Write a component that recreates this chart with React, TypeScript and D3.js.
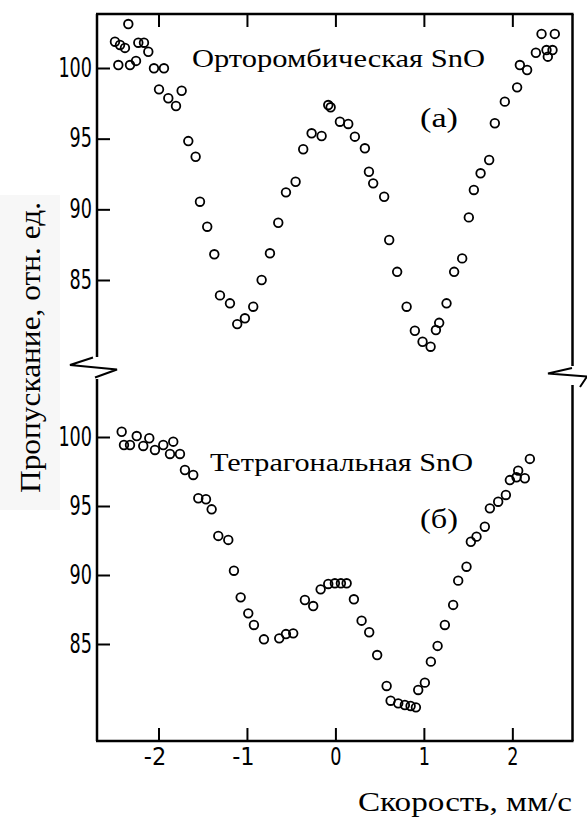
import React, { useEffect, useRef } from 'react';
import * as d3 from 'd3';

// Orthorhombic SnO (a): [velocity mm/s, transmission %]
const orthoVel = [-2.341, -2.492, -2.435, -2.379, -2.228, -2.164, -2.115, -2.454, -2.322, -2.254, -2.051, -1.938, -1.994, -1.889, -1.802, -1.738, -1.663, -1.58, -1.531, -1.449, -1.369, -1.305, -1.192, -1.11, -1.023, -0.929, -0.834, -0.74, -0.646, -0.559, -0.45, -0.364, -0.269, -0.156, -0.081, -0.054, 0.051, 0.145, 0.22, 0.333, 0.379, 0.427, 0.551, 0.608, 0.698, 0.805, 0.898, 0.985, 1.076, 1.136, 1.173, 1.256, 1.342, 1.433, 1.508, 1.565, 1.641, 1.738, 1.802, 1.915, 2.054, 2.085, 2.167, 2.266, 2.33, 2.48, 2.386, 2.454, 2.401];
const orthoTrans = [103.11, 101.86, 101.63, 101.42, 101.79, 101.79, 101.15, 100.21, 100.21, 100.5, 99.98, 99.98, 98.49, 97.86, 97.31, 98.39, 94.83, 93.72, 90.54, 88.77, 86.82, 83.91, 83.35, 81.88, 82.29, 83.11, 85.0, 86.89, 89.05, 91.2, 91.95, 94.25, 95.38, 95.19, 97.38, 97.22, 96.2, 96.04, 95.14, 94.32, 92.66, 91.84, 90.89, 87.83, 85.58, 83.11, 81.41, 80.63, 80.28, 81.46, 81.97, 83.35, 85.58, 86.53, 89.43, 91.37, 92.55, 93.49, 96.09, 97.62, 98.63, 100.21, 99.86, 101.08, 102.41, 102.41, 101.27, 101.27, 100.8];

// Tetragonal SnO (б)
const tetraVel = [-2.416, -2.246, -2.104, -1.833, -2.39, -2.322, -2.172, -2.04, -1.946, -1.87, -1.757, -1.701, -1.607, -1.55, -1.463, -1.399, -1.324, -1.211, -1.147, -1.071, -0.985, -0.921, -0.808, -0.635, -0.559, -0.477, -0.345, -0.251, -0.167, -0.081, -0.006, 0.062, 0.127, 0.209, 0.296, 0.382, 0.472, 0.579, 0.624, 0.71, 0.785, 0.85, 0.91, 0.936, 1.011, 1.079, 1.155, 1.237, 1.331, 1.388, 1.482, 1.531, 1.595, 1.689, 1.746, 1.84, 1.927, 1.972, 2.047, 2.066, 2.141, 2.198];
const tetraTrans = [100.38, 100.07, 99.91, 99.66, 99.42, 99.42, 99.35, 99.06, 99.42, 98.77, 98.77, 97.61, 97.25, 95.56, 95.49, 94.76, 92.83, 92.54, 90.31, 88.38, 87.22, 86.38, 85.34, 85.41, 85.72, 85.77, 88.19, 87.75, 88.96, 89.35, 89.4, 89.4, 89.4, 88.24, 86.69, 85.85, 84.2, 81.96, 80.89, 80.7, 80.58, 80.51, 80.41, 81.67, 82.2, 83.72, 84.86, 86.38, 87.83, 89.59, 90.6, 92.41, 92.78, 93.5, 94.83, 95.31, 95.8, 96.88, 97.08, 97.56, 97.01, 98.41];

const xTicks = [-2, -1, 0, 1, 2];
const yTicks = [100, 95, 90, 85];

const W = 587;
const H = 817;
const L = 97;
const R = 572.5;
const T = 14;
const B = 741;

export default function App() {
  const ref = useRef<SVGSVGElement>(null);

  useEffect(() => {
    if (!ref.current) return;
    const svg = d3.select(ref.current);
    svg.selectAll('*').remove();

    const x = d3.scaleLinear().domain([-2.695, 2.68]).range([L, R]);
    const yTop = d3.scaleLinear().domain([85, 100]).range([280, 68]);
    const yBot = d3.scaleLinear().domain([85, 100]).range([644, 437]);

    svg.append('rect').attr('width', W).attr('height', H).attr('fill', '#fff');
    // faint scan patch behind the y label
    svg.append('rect').attr('x', 0).attr('y', 195).attr('width', 60).attr('height', 315).attr('fill', '#f7f7f7');

    const tickFont = "'Liberation Sans Narrow', 'DejaVu Sans Condensed', sans-serif";
    const serif = "'Liberation Serif', 'DejaVu Serif', serif";

    const frame = svg.append('g').attr('stroke', '#000').attr('stroke-width', 2.5).attr('fill', 'none');
    frame.append('line').attr('x1', L - 1).attr('x2', R + 1).attr('y1', T).attr('y2', T);
    frame.append('line').attr('x1', L).attr('x2', L).attr('y1', T).attr('y2', 357);
    frame.append('line').attr('x1', L).attr('x2', L).attr('y1', 379).attr('y2', B);
    frame.append('line').attr('x1', R).attr('x2', R).attr('y1', T).attr('y2', 366);
    frame.append('line').attr('x1', R).attr('x2', R).attr('y1', 385).attr('y2', B);
    frame.append('line').attr('x1', L - 1).attr('x2', R + 1).attr('y1', B).attr('y2', B);

    // break marks
    const brk = svg.append('g').attr('stroke', '#000').attr('stroke-width', 2).attr('fill', 'none');
    brk.append('path').attr('d', 'M93,357.5 L70,365 L117,369.5 L95,377.5');
    brk.append('path').attr('d', 'M572,368 L548,373.5 L587,376.5 L580,387');

    // narrow digits, about 11 px each in the scan
    const styleAxis = (g: d3.Selection<SVGGElement, unknown, null, undefined>, size: number) => {
      g.select('.domain').remove();
      g.selectAll('.tick line').attr('stroke', '#000').attr('stroke-width', 2);
      g.selectAll<SVGTextElement, number>('.tick text')
        .attr('fill', '#000')
        .style('font-family', tickFont)
        .style('font-size', `${size}px`)
        .attr('textLength', function () { return (this.textContent || '').length * 11.2; })
        .attr('lengthAdjust', 'spacingAndGlyphs');
    };

    svg.append('g').attr('transform', `translate(${L},0)`)
      .call(d3.axisLeft(yTop).tickValues(yTicks).tickSizeInner(-13).tickSizeOuter(0).tickPadding(5).tickFormat(d3.format('d')))
      .call((g) => styleAxis(g, 26));
    svg.append('g').attr('transform', `translate(${L},0)`)
      .call(d3.axisLeft(yBot).tickValues(yTicks).tickSizeInner(-13).tickSizeOuter(0).tickPadding(5).tickFormat(d3.format('d')))
      .call((g) => styleAxis(g, 26));
    const xAxis = svg.append('g').attr('transform', `translate(0,${B})`)
      .call(d3.axisBottom(x).tickValues(xTicks).tickSizeInner(-13).tickSizeOuter(0).tickPadding(7).tickFormat((d) => String(d).replace('−', '-')))
      .call((g) => styleAxis(g, 24));
    // minus sign hangs left of the tick, digit sits on it
    xAxis.selectAll<SVGTextElement, number>('.tick text').attr('dx', (d) => (d < 0 ? -4 : 0));
    svg.append('g').attr('transform', `translate(0,${T})`)
      .call(d3.axisTop(x).tickValues(xTicks).tickSizeInner(-13).tickSizeOuter(0).tickFormat(() => ''))
      .call((g) => styleAxis(g, 24));

    const drawPoints = (vel: number[], tr: number[], y: d3.ScaleLinear<number, number>) => {
      svg.append('g').selectAll('circle').data(d3.zip(vel, tr)).join('circle')
        .attr('cx', (d) => x(d[0]))
        .attr('cy', (d) => y(d[1]))
        .attr('r', 4.3)
        .attr('fill', 'none')
        .attr('stroke', '#000')
        .attr('stroke-width', 1.8);
    };
    drawPoints(orthoVel, orthoTrans, yTop);
    drawPoints(tetraVel, tetraTrans, yBot);

    // the scanned picture is stretched sideways, so text is fitted to its measured width
    const txt = (s: string, tx: number, ty: number, size: number, len: number) =>
      svg.append('text').attr('x', tx).attr('y', ty)
        .attr('textLength', len).attr('lengthAdjust', 'spacingAndGlyphs')
        .style('font-family', serif).style('font-size', `${size}px`).attr('fill', '#000').text(s);

    txt('Орторомбическая SnO', 192, 67, 25, 293);
    txt('(а)', 420, 127, 27, 38);
    txt('Тетрагональная SnO', 210, 471, 25, 263);
    txt('(б)', 420, 528, 27, 38);
    txt('Скорость, мм/с', 358, 811, 28, 214);

    svg.append('text')
      .attr('transform', 'translate(40,347.5) rotate(-90)')
      .attr('text-anchor', 'middle')
      .attr('textLength', 291).attr('lengthAdjust', 'spacingAndGlyphs')
      .style('font-family', serif).style('font-size', '29px').attr('fill', '#000')
      .text('Пропускание, отн. ед.');
  }, []);

  return (
    <div style={{ position: 'fixed', left: 0, top: 0 }}>
      <svg ref={ref} width={W} height={H} style={{ display: 'block' }} />
    </div>
  );
}
